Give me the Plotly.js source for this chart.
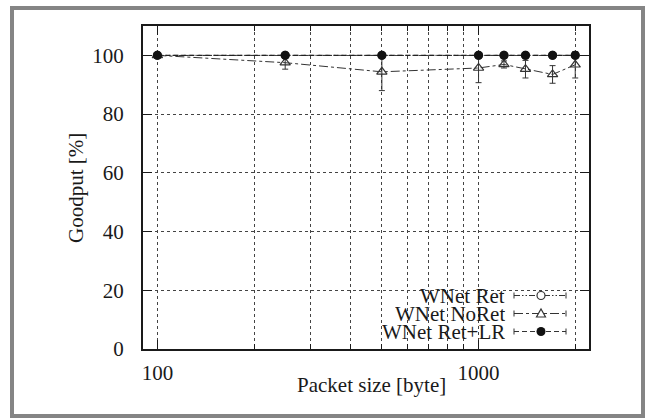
<!DOCTYPE html>
<html>
<head>
<meta charset="utf-8">
<script src="https://cdn.plot.ly/plotly-3.0.1.min.js"></script>
<style>
  html, body { margin: 0; padding: 0; background: #fff; }
  #wrap { position: relative; width: 645px; height: 418px; overflow: hidden; }
  #chart { position: absolute; left: 0; top: 0; width: 645px; height: 418px; }
  #frame { position: absolute; left: 10px; top: 6px; width: 635px; height: 412px;
           box-sizing: border-box; border: 4px solid #858585; pointer-events: none; }
</style>
</head>
<body>
<div id="wrap">
  <div id="chart"></div>
  <div id="frame"></div>
</div>
<script>
// ---- data ----
const packetSize   = [100, 250, 500, 1000, 1200, 1400, 1700, 2000];
const wnetRet      = [100, 100, 100, 100, 100, 100, 100, 100];
const wnetNoRet    = [100, 97.5, 94.4, 95.7, 96.9, 95.3, 93.5, 96.8];
const wnetNoRetErr = [0, 2.2, 6.4, 5.0, 1.2, 3.0, 3.0, 4.5];
const wnetRetLR    = [100, 100, 100, 100, 100, 100, 100, 100];
const seriesNames  = ['WNet Ret', 'WNet NoRet', 'WNet Ret+LR'];
const xMajorTicks  = [100, 1000];
const xMinorTicks  = [200, 300, 400, 500, 600, 700, 800, 900, 2000];
const yTicks       = [0, 20, 40, 60, 80, 100];
const xTitle       = 'Packet size [byte]';
const yTitle       = 'Goodput [%]';

// ---- layout geometry ----
const W = 645, H = 418;
const M = {l: 143, r: 56, t: 26, b: 69};
const pw = W - M.l - M.r, ph = H - M.t - M.b;
const px = x => (x - M.l) / pw;
const py = y => 1 - (y - M.t) / ph;

const FONT = "'Liberation Serif', 'Times New Roman', serif";
const FS = 21;
const INK = '#1a1a1a';

const traces = [
  {
    x: packetSize, y: wnetRet, name: seriesNames[0], type: 'scatter', mode: 'lines+markers',
    line: {color: '#333', width: 1, dash: '6px,2px,1.5px,2px,1.5px,2px'},
    marker: {symbol: 'circle-open', size: 8, color: '#333', line: {width: 1.2}},
    showlegend: false
  },
  {
    x: packetSize, y: wnetNoRet, name: seriesNames[1], type: 'scatter', mode: 'lines+markers',
    line: {color: '#333', width: 1, dash: 'dashdot'},
    marker: {symbol: 'triangle-up-open', size: 9, color: '#333', line: {width: 1.2}},
    error_y: {type: 'data', array: wnetNoRetErr, visible: true, color: '#333', thickness: 1, width: 3},
    showlegend: false
  },
  {
    x: packetSize, y: wnetRetLR, name: seriesNames[2], type: 'scatter', mode: 'lines+markers',
    line: {color: '#222', width: 1.2, dash: '5px,3px'},
    marker: {symbol: 'circle', size: 9, color: '#111'},
    showlegend: false
  }
];

// ---- manual legend (text right, sample on the right, gnuplot style) ----
const legRows = [295.5, 313.5, 331.5];
const legDash = ['6px,2px,1.5px,2px,1.5px,2px', 'dashdot', '5px,3px'];
const annotations = seriesNames.map((n, i) => ({
  xref: 'paper', yref: 'paper', x: px(506), y: py(legRows[i]),
  xanchor: 'right', yanchor: 'middle', showarrow: false, text: n, height: 18, borderpad: 0,
  font: {family: FONT, size: FS, color: INK}
}));
// axis titles
annotations.push({xref: 'paper', yref: 'paper', x: px(371), y: py(385),
  xanchor: 'center', yanchor: 'middle', showarrow: false, text: xTitle,
  font: {family: FONT, size: FS, color: INK}});
annotations.push({xref: 'paper', yref: 'paper', x: px(76), y: py(188), textangle: -90,
  xanchor: 'center', yanchor: 'middle', showarrow: false, text: yTitle,
  font: {family: FONT, size: FS, color: INK}});

const shapes = [
  {type: 'rect', xref: 'paper', yref: 'paper', x0: px(377), x1: px(577),
   y0: py(348), y1: py(284), fillcolor: '#fff', line: {width: 0}, layer: 'between'}
];
legRows.forEach((r, i) => {
  shapes.push({type: 'line', xref: 'paper', yref: 'paper', x0: px(514), x1: px(566),
               y0: py(r), y1: py(r), line: {color: '#333', width: 1, dash: legDash[i]}});
  [514, 566].forEach(xx => shapes.push({type: 'line', xref: 'paper', yref: 'paper',
      ysizemode: 'pixel', yanchor: py(r), x0: px(xx), x1: px(xx), y0: -3, y1: 3,
      line: {color: '#333', width: 1}}));
  const base = {xref: 'paper', yref: 'paper', xsizemode: 'pixel', ysizemode: 'pixel',
                xanchor: px(541), yanchor: py(r)};
  if (i === 0) shapes.push(Object.assign({type: 'circle', x0: -4, x1: 4, y0: -4, y1: 4,
                                          line: {color: '#333', width: 1.2}, fillcolor: '#fff'}, base));
  if (i === 1) shapes.push(Object.assign({type: 'path', path: 'M -4.5,-3.5 L 4.5,-3.5 L 0,4.5 Z',
                                          line: {color: '#333', width: 1.2}, fillcolor: '#fff'}, base));
  if (i === 2) shapes.push(Object.assign({type: 'circle', x0: -4.5, x1: 4.5, y0: -4.5, y1: 4.5,
                                          line: {color: '#111', width: 0}, fillcolor: '#111'}, base));
});

const layout = {
  width: W, height: H,
  margin: M,
  paper_bgcolor: '#fff', plot_bgcolor: '#fff',
  font: {family: FONT, size: FS, color: INK},
  showlegend: false,
  xaxis: {
    type: 'log', range: [1.9552, 3.3439],
    tickmode: 'array', tickvals: xMajorTicks, ticktext: xMajorTicks.map(String),
    ticks: 'inside', ticklen: 9, tickwidth: 1, tickcolor: INK,
    showline: true, linewidth: 2, linecolor: INK, mirror: 'ticks',
    showgrid: true, gridcolor: '#444', gridwidth: 1, griddash: '3px,3px',
    zeroline: false, ticklabelstandoff: 4,
    minor: {tickmode: 'array', tickvals: xMinorTicks, ticks: 'inside', ticklen: 5,
            tickcolor: INK, showgrid: true, gridcolor: '#444', gridwidth: 1, griddash: '3px,3px'}
  },
  yaxis: {
    range: [0, 110], tickmode: 'array', tickvals: yTicks,
    ticks: 'inside', ticklen: 9, tickwidth: 1, tickcolor: INK,
    showline: true, linewidth: 2, linecolor: INK, mirror: 'ticks',
    showgrid: true, gridcolor: '#444', gridwidth: 1, griddash: '3px,3px',
    zeroline: false, ticklabelstandoff: 13
  },
  annotations: annotations,
  shapes: shapes
};

Plotly.newPlot('chart', traces, layout, {displayModeBar: false, staticPlot: true});
</script>
</body>
</html>
